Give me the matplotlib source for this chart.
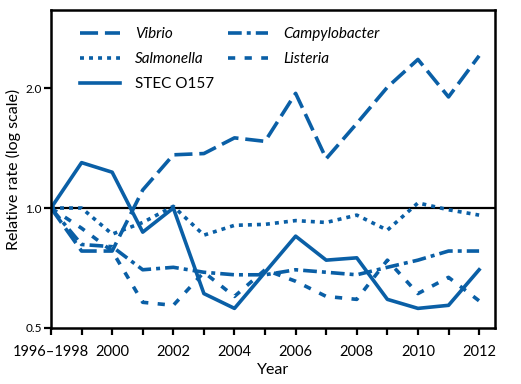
import matplotlib
matplotlib.use("Agg")
import matplotlib.pyplot as plt
from matplotlib.ticker import FixedLocator, NullLocator, FixedFormatter

# x positions: baseline 1996-1998 is plotted at 1998, then yearly
years = [1998, 1999, 2000, 2001, 2002, 2003, 2004, 2005, 2006, 2007, 2008, 2009, 2010, 2011, 2012]

vibrio = [1.0, 0.78, 0.78, 1.11, 1.36, 1.37, 1.50, 1.47, 1.94, 1.33, 1.63, 2.01, 2.36, 1.90, 2.41]
salmonella = [1.0, 1.0, 0.86, 0.92, 1.01, 0.855, 0.905, 0.91, 0.93, 0.92, 0.96, 0.88, 1.03, 0.99, 0.96]
stec = [1.0, 1.30, 1.23, 0.87, 1.0, 0.61, 0.56, 0.69, 0.85, 0.74, 0.75, 0.59, 0.56, 0.57, 0.70]
campylobacter = [1.0, 0.81, 0.80, 0.70, 0.71, 0.69, 0.68, 0.68, 0.70, 0.69, 0.68, 0.71, 0.74, 0.78, 0.78]
listeria = [1.0, 0.89, 0.78, 0.58, 0.57, 0.69, 0.60, 0.70, 0.655, 0.60, 0.59, 0.74, 0.61, 0.67, 0.585]

xtick_pos = list(range(1998, 2013))
xtick_labels = ["1996\u20131998", "", "2000", "", "2002", "", "2004", "", "2006",
                "", "2008", "", "2010", "", "2012"]
ytick_pos = [0.5, 1.0, 2.0]
ytick_labels = ["0.5", "1.0", "2.0"]

blue = "#0a5fa6"
plt.rcParams['font.family'] = ['Lato', 'DejaVu Sans']

fig = plt.figure(figsize=(5.21, 3.84), dpi=100)
ax = fig.add_axes([51 / 521, 1 - 328 / 384, 444 / 521, 318 / 384])

lw = 2.6
ax.axhline(1.0, color="black", linewidth=1.6, zorder=1)
ax.plot(years, vibrio, color=blue, lw=lw, linestyle=(0, (5.0, 1.9)), label="Vibrio")
ax.plot(years, salmonella, color=blue, lw=lw, linestyle=(0, (1.1, 1.4)), label="Salmonella")
ax.plot(years, stec, color=blue, lw=lw, linestyle="-", label="STEC O157")
ax.plot(years, campylobacter, color=blue, lw=lw, linestyle=(0, (3.8, 1.4, 1.1, 1.4)), label="Campylobacter")
ax.plot(years, listeria, color=blue, lw=lw, linestyle=(0, (2.0, 2.6)), label="Listeria")

ax.set_yscale("log")
ax.set_ylim(0.5, 3.14)
ax.set_xlim(1998, 2012.52)

ax.yaxis.set_major_locator(FixedLocator(ytick_pos))
ax.yaxis.set_major_formatter(FixedFormatter(ytick_labels))
ax.yaxis.set_minor_locator(NullLocator())
ax.xaxis.set_major_locator(FixedLocator(xtick_pos))
ax.xaxis.set_major_formatter(FixedFormatter(xtick_labels))

ax.tick_params(axis="x", length=5, width=1.6, labelsize=10.5, pad=7)
ax.tick_params(axis="y", length=5, width=1.6, labelsize=8.5, pad=1.5)
for s in ax.spines.values():
    s.set_linewidth(1.8)

ax.set_xlabel("Year", fontsize=11.5, labelpad=3)
ax.set_ylabel("Relative rate (log scale)", fontsize=11.5, labelpad=3)

leg = ax.legend(ncol=2, loc="upper left", bbox_to_anchor=(0.035, 0.99), frameon=False,
                fontsize=11, handlelength=2.6, handletextpad=1.0,
                columnspacing=0.9, labelspacing=0.72)
for t in leg.get_texts():
    if t.get_text() != "STEC O157":
        t.set_style("italic")

fig.savefig("out.png", dpi=100)
